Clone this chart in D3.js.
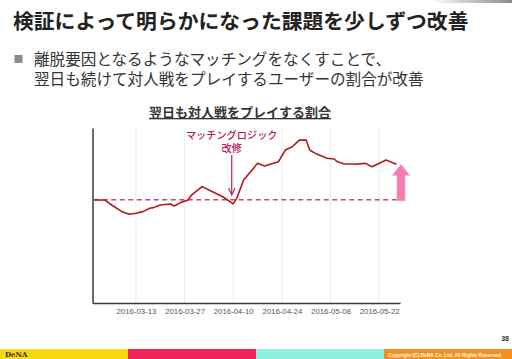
<!DOCTYPE html>
<html><head><meta charset="utf-8">
<script src="https://cdn.jsdelivr.net/npm/d3@7"></script>
<style>
html,body{margin:0;padding:0;background:#fff;}
svg{display:block;}
</style></head>
<body>
<svg id="c" width="512" height="359"></svg>
<script>
// ---- data ----
const pageTitle = "検証によって明らかになった課題を少しずつ改善";
const bulletLines = ["離脱要因となるようなマッチングをなくすことで、", "翌日も続けて対人戦をプレイするユーザーの割合が改善"];
const chartTitle = "翌日も対人戦をプレイする割合";
const annotationLines = ["マッチングロジック", "改修"];
const annotationDate = "2016-04-10";
const dates = ["2016-03-01","2016-03-04","2016-03-06","2016-03-09","2016-03-11","2016-03-13","2016-03-15","2016-03-17","2016-03-18","2016-03-20","2016-03-23","2016-03-24","2016-03-26","2016-03-28","2016-03-29","2016-04-01","2016-04-03","2016-04-07","2016-04-10","2016-04-11","2016-04-13","2016-04-17","2016-04-19","2016-04-23","2016-04-25","2016-04-27","2016-04-29","2016-05-01","2016-05-02","2016-05-04","2016-05-07","2016-05-09","2016-05-10","2016-05-12","2016-05-14","2016-05-15","2016-05-18","2016-05-20","2016-05-21","2016-05-24","2016-05-27"];
const values = [58.9,58.9,56.0,52.2,50.7,51.3,52.2,54.1,54.5,56.0,56.6,55.4,57.5,58.9,61.7,66.5,64.6,60.7,56.6,59.8,70.3,79.8,78.3,80.7,87.4,89.3,93.1,93.1,87.4,85.1,82.7,82.3,80.7,79.4,79.4,79.3,79.8,77.9,78.9,81.7,79.3];
const baselineValue = 59.0;
const tickLabels = ["2016-03-13","2016-03-27","2016-04-10","2016-04-24","2016-05-08","2016-05-22"];
const xDomain = ["2016-02-29T12","2016-05-28T00"];
const yDomain = [0, 100];
const pageNumber = "38";
const footerLeft = "DeNA";
const footerRight = "Copyright (C) DeNA Co.,Ltd. All Rights Reserved.";
const footerColors = ["#f8d914","#ef2358","#8ef0e0","#f58f1c"];

// ---- drawing ----
const svg = d3.select("#c");
const parse = d3.timeParse("%Y-%m-%d");
const parseH = d3.timeParse("%Y-%m-%dT%H");
const fmt = d3.timeFormat("%Y-%m-%d");
const jp = "'Noto Sans CJK JP', 'Noto Sans', sans-serif";

// top-right grey strip
const grad = svg.append("defs").append("linearGradient").attr("id","tg");
grad.append("stop").attr("offset","0").attr("stop-color","#fff");
grad.append("stop").attr("offset","1").attr("stop-color","#8a8a8a");
svg.append("rect").attr("x",430).attr("y",0).attr("width",82).attr("height",3).attr("fill","url(#tg)");

svg.append("text").attr("x",13).attr("y",29).attr("font-family",jp).attr("font-weight","bold")
  .attr("font-size",20.8).attr("fill","#222").text(pageTitle);

svg.append("rect").attr("x",14.5).attr("y",55).attr("width",8).attr("height",8).attr("fill","#8c8c8c");
bulletLines.forEach((t,i)=>{
  svg.append("text").attr("x",34).attr("y",65+i*20).attr("font-family",jp)
    .attr("font-size",15.6).attr("fill","#333").text(t);
});

const x = d3.scaleTime().domain(xDomain.map(parseH)).range([92.5,400]);
const y = d3.scaleLinear().domain(yDomain).range([303,128]);
const data = dates.map((d,i)=>({date:parse(d), v:values[i]}));

// chart title
svg.append("text").attr("x",240).attr("y",117).attr("text-anchor","middle")
  .attr("font-family",jp).attr("font-weight","bold").attr("font-size",13).attr("fill","#333")
  .attr("text-decoration","underline").text(chartTitle);

// gridlines
const ticks = tickLabels.map(parse);
svg.append("g").selectAll("line").data(ticks).join("line")
  .attr("x1",d=>x(d)).attr("x2",d=>x(d)).attr("y1",y(yDomain[1])).attr("y2",y(0))
  .attr("stroke","#e6edf0").attr("stroke-width",1);

// baseline dashed
svg.append("line").attr("x1",x(data[0].date)).attr("x2",402).attr("y1",y(baselineValue)).attr("y2",y(baselineValue))
  .attr("stroke","#c9457f").attr("stroke-width",1.3).attr("stroke-dasharray","5,3.5");

// axes
const xAxis = svg.append("g").attr("transform",`translate(0,${y(0)})`)
  .call(d3.axisBottom(x).tickValues(ticks).tickFormat(fmt).tickSize(0).tickSizeOuter(0).tickPadding(5));
xAxis.select(".domain").attr("stroke","#3a3a3a").attr("stroke-width",1.5);
xAxis.selectAll("text").attr("font-family","'Liberation Sans', Arial, sans-serif").attr("font-size",7.8).attr("fill","#555");
const yAxis = svg.append("g").attr("transform",`translate(${x.range()[0]},0)`)
  .call(d3.axisLeft(y).tickValues([]).tickSizeOuter(0));
yAxis.select(".domain").attr("stroke","#3a3a3a").attr("stroke-width",1.5);

// line
svg.append("path").datum(data)
  .attr("d", d3.line().x(d=>x(d.date)).y(d=>y(d.v)))
  .attr("fill","none").attr("stroke","#b11a1a").attr("stroke-width",1.6).attr("stroke-linejoin","round");

// annotation
const ax = x(parse(annotationDate)) - 1.5;
annotationLines.forEach((t,i)=>{
  svg.append("text").attr("x",ax).attr("y",138.5+i*13.5).attr("text-anchor","middle")
    .attr("font-family",jp).attr("font-size",10.2).attr("font-weight","500").attr("fill","#b3165a").text(t);
});
svg.append("line").attr("x1",ax).attr("x2",ax).attr("y1",155).attr("y2",195)
  .attr("stroke","#b3165a").attr("stroke-width",1.1);
svg.append("path").attr("d",`M${ax-3.2},${188} L${ax},${195} L${ax+3.2},${188}`)
  .attr("fill","none").attr("stroke","#b3165a").attr("stroke-width",1.1);

// pink up arrow
const arrowX = 401;
const aTop = y(values[values.length-1]);
const aBot = y(baselineValue)+1;
svg.append("path")
  .attr("d",`M${arrowX},${aTop} L${arrowX+8.5},${aTop+11} L${arrowX+4},${aTop+11} L${arrowX+4},${aBot} L${arrowX-4},${aBot} L${arrowX-4},${aTop+11} L${arrowX-8.5},${aTop+11} Z`)
  .attr("fill","#f27db0").attr("stroke","#f6a8cc").attr("stroke-width",0.8);

// page number
svg.append("text").attr("x",509).attr("y",341).attr("text-anchor","end").attr("font-family","'Liberation Sans', Arial, sans-serif")
  .attr("font-size",7).attr("font-weight","bold").attr("fill","#333").text(pageNumber);

// footer
const fw = 512/footerColors.length;
svg.append("g").selectAll("rect").data(footerColors).join("rect")
  .attr("x",(d,i)=>i*fw).attr("y",349).attr("width",fw+0.5).attr("height",10).attr("fill",d=>d);
svg.append("text").attr("x",5).attr("y",357).attr("font-family","'DejaVu Serif', serif").attr("font-size",7)
  .attr("font-weight","bold").attr("fill","#3a2a10").text(footerLeft);
svg.append("text").attr("x",502).attr("y",356.5).attr("text-anchor","end").attr("font-family","'Liberation Sans', Arial, sans-serif")
  .attr("font-size",4.9).attr("font-weight","bold").attr("fill","#fff").text(footerRight);
</script>
</body></html>
